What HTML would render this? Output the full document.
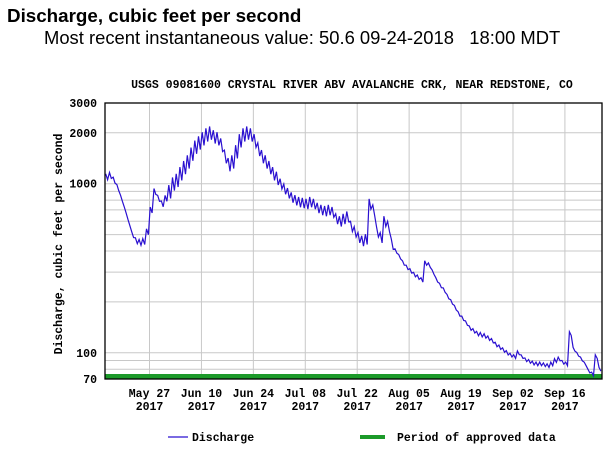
<!DOCTYPE html>
<html><head><meta charset="utf-8"><style>
body{margin:0;background:#fff;width:614px;height:453px;overflow:hidden;font-family:"Liberation Sans",sans-serif}
#t1{position:absolute;left:7px;top:5px;font-size:18.8px;font-weight:bold;color:#000}
#t2{position:absolute;left:44px;top:27px;font-size:18.4px;color:#000}
svg{position:absolute;left:0;top:0}
.m{font-family:"Liberation Mono",monospace;font-weight:bold;font-size:11.5px;fill:#000}
</style></head><body>
<div id="t1">Discharge, cubic feet per second</div>
<div id="t2">Most recent instantaneous value: 50.6 09-24-2018 &nbsp;&nbsp;18:00 MDT</div>
<svg id="c" width="614" height="453"></svg>
<script>
const yTicks=[3000,2000,1000,100,70];
const yGrid=[3000,2000,1000,900,800,700,600,500,400,300,200,100,90,80,70];
const xLabels=["May 27","Jun 10","Jun 24","Jul 08","Jul 22","Aug 05","Aug 19","Sep 02","Sep 16"];
const xLabelDays=[12,26,40,54,68,82,96,110,124];
// daily mean discharge, starting May 15 2017
const dailyMean=[1100,1120,1050,950,820,700,590,
500,460,450,455,520,700,900,
820,760,820,900,1000,1050,1150,
1250,1350,1500,1650,1750,1850,1950,
2000,1900,1850,1700,1450,1300,1350,
1550,1800,1950,2000,1950,1800,1600,
1450,1350,1250,1150,1080,1000,930,
880,830,800,780,770,760,780,
760,720,700,690,700,680,620,
600,620,640,560,520,480,460,
470,760,700,520,480,600,560,
440,400,370,340,320,305,290,
280,270,340,330,300,270,250,
235,215,200,185,170,160,150,
140,135,130,128,126,122,118,
112,108,104,100,97,95,100,
95,91,89,87,86,86,85,
84,86,90,92,88,86,130,
105,98,92,86,78,75,95,
80];
// diurnal swing fraction by period (May, Jun, Jul, Aug, Sep)
const diurnalSwing=[0.04,0.09,0.07,0.03,0.025];
const monthStart=[0,17,47,78,109];

const L=105,R=602,T=103,B=379,totalDays=134;
const yMin=70,yMax=3000;
const ys=v=>B-(B-T)*Math.log10(v/yMin)/Math.log10(yMax/yMin);
const xs=d=>L+(R-L)*d/totalDays;
const svg=document.getElementById('c');
const NS="http://www.w3.org/2000/svg";
function mk(tag,attrs){const e=document.createElementNS(NS,tag);for(const k in attrs)e.setAttribute(k,attrs[k]);svg.appendChild(e);return e;}

yGrid.forEach(v=>{const g=mk('line',{x1:L,x2:R,y1:ys(v),y2:ys(v),stroke:'#c8c8c8','stroke-width':1});

});
xLabelDays.forEach(d=>{const g=mk('line',{x1:xs(d),x2:xs(d),y1:T,y2:B,stroke:'#c8c8c8','stroke-width':1});

});

const band=mk('rect',{x:L,y:B-5,width:R-L,height:5,fill:'#1c9a2a'});



let pts=[];
dailyMean.forEach((v,i)=>{let m=0;for(let k=0;k<monthStart.length;k++)if(i>=monthStart[k])m=k;
const s=diurnalSwing[m];
pts.push(xs(i+0.2).toFixed(1)+','+ys(v*(1+s)).toFixed(1));
pts.push(xs(i+0.7).toFixed(1)+','+ys(v*(1-s)).toFixed(1));});
const line=mk('polyline',{points:pts.join(' '),fill:'none',stroke:'#2a10d0','stroke-width':1.2});



const frame=mk('rect',{x:L,y:T,width:R-L,height:B-T,fill:'none',stroke:'#000','stroke-width':1.3});



yTicks.forEach(v=>{const t=mk('text',{x:L-8,y:ys(v)+4,'text-anchor':'end',class:'m'});t.textContent=v;

});
xLabels.forEach((s,i)=>{const x=xs(xLabelDays[i]);
const t=mk('text',{x:x,y:397,'text-anchor':'middle',class:'m'});t.textContent=s;


const t2=mk('text',{x:x,y:410,'text-anchor':'middle',class:'m'});t2.textContent='2017';

});

const yt=mk('text',{x:0,y:0,transform:'translate(62,244) rotate(-90)','text-anchor':'middle',class:'m','font-size':'12px'});
yt.textContent='Discharge, cubic feet per second';



const st=mk('text',{x:352,y:88,'text-anchor':'middle',class:'m','font-size':'10.6px'});
st.textContent='USGS 09081600 CRYSTAL RIVER ABV AVALANCHE CRK, NEAR REDSTONE, CO';



const l1=mk('line',{x1:168,x2:188,y1:437,y2:437,stroke:'#2a10d0','stroke-width':1.2});


const lt1=mk('text',{x:192,y:441,class:'m','font-size':'11px'});lt1.textContent='Discharge';


const l2=mk('rect',{x:360,y:435,width:25,height:4,fill:'#1c9a2a'});


const lt2=mk('text',{x:397,y:441,class:'m','font-size':'10.9px'});lt2.textContent='Period of approved data';


</script>
</body></html>
